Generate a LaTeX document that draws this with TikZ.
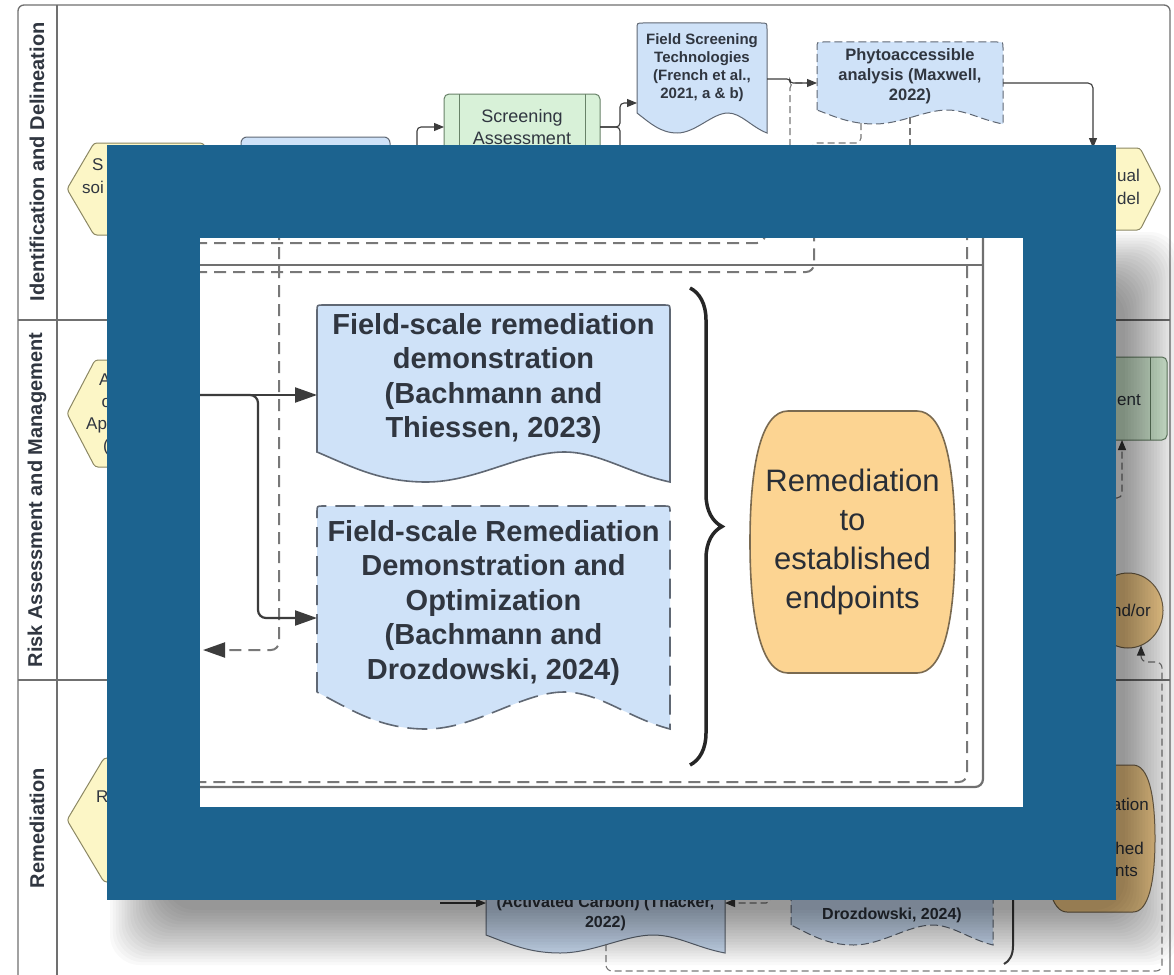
\documentclass[tikz,border=0pt]{standalone}
\usepackage{fontspec}
\setmainfont{Liberation Sans}
\usetikzlibrary{arrows.meta,calc,shapes.geometric,decorations.pathreplacing}

\definecolor{zoomblue}{RGB}{28,99,143}
\definecolor{docfill}{RGB}{207,226,248}
\definecolor{docline}{RGB}{96,104,116}
\definecolor{hexfill}{RGB}{252,246,198}
\definecolor{hexline}{RGB}{140,136,100}
\definecolor{grnfill}{RGB}{216,241,216}
\definecolor{grnline}{RGB}{104,130,104}
\definecolor{orgfill}{RGB}{252,212,146}
\definecolor{orgline}{RGB}{122,106,80}
\definecolor{inktext}{RGB}{48,54,64}
\definecolor{frameln}{RGB}{112,112,112}
\definecolor{connln}{RGB}{60,60,60}
\definecolor{dashln}{RGB}{120,120,120}

% document shape: rounded top, wavy bottom (#3 = wave depth)
\newcommand{\docoutline}[3]{%
  \path[#1] let \p1=(#2.north west), \p2=(#2.south east), \n1={\x2-\x1} in
    (\x1,\y2) -- (\x1,\y1-6pt) .. controls (\x1,\y1) .. (\x1+6pt,\y1)
    -- (\x2-6pt,\y1) .. controls (\x2,\y1) .. (\x2,\y1-6pt)
    -- (\x2,\y2-#3pt)
    .. controls (\x2-0.12*\n1,\y2-0.7*#3pt) and (\x2-0.2*\n1,\y2) .. (\x2-0.3*\n1,\y2)
    .. controls (\x2-0.42*\n1,\y2) and (\x1+0.45*\n1,\y2-#3pt) .. (\x1+0.31*\n1,\y2-#3pt)
    .. controls (\x1+0.18*\n1,\y2-#3pt) and (\x1+0.1*\n1,\y2-0.5*#3pt) .. (\x1,\y2) -- cycle;}

% barrel shape: flat top and bottom, bulging sides (#3 = bulge)
\newcommand{\barreloutline}[3]{%
  \path[#1] let \p1=(#2.north west), \p2=(#2.south east), \p3=(#2.east), \n1={\y1-\y2} in
    (\x1+#3pt,\y1) -- (\x2-#3pt,\y1)
    .. controls (\x2-0.3*#3pt,\y1) and (\x2,\y1-0.2*\n1) .. (\x2,\y3)
    .. controls (\x2,\y2+0.2*\n1) and (\x2-0.3*#3pt,\y2) .. (\x2-#3pt,\y2)
    -- (\x1+#3pt,\y2)
    .. controls (\x1+0.3*#3pt,\y2) and (\x1,\y2+0.2*\n1) .. (\x1,\y3)
    .. controls (\x1,\y1-0.2*\n1) and (\x1+0.3*#3pt,\y1) .. (\x1+#3pt,\y1) -- cycle;}

% hexagon with pointed left and right ends (#3 = point depth)
\newcommand{\hexoutline}[3]{%
  \path[#1] let \p1=(#2.north west), \p2=(#2.south east), \p3=(#2.east) in
    (\x1,\y3) -- (\x1+#3pt,\y1) -- (\x2-#3pt,\y1) -- (\x2,\y3)
    -- (\x2-#3pt,\y2) -- (\x1+#3pt,\y2) -- cycle;}

\begin{document}
\begin{tikzpicture}[x=1pt,y=-1pt,
  box/.style={inner sep=0pt, outer sep=0pt, anchor=north west},
  poolline/.style={draw=frameln, line width=1.3pt},
  lane/.style={rotate=90, text=inktext, font=\fontsize{20}{24}\selectfont\bfseries},
  frag/.style={inner sep=0pt, text=inktext, font=\fontsize{17}{20}\selectfont},
  bgdoctext/.style={text=inktext, align=center, inner sep=0pt},
  hexshape/.style={draw=hexline, fill=hexfill, line width=1pt, rounded corners=3pt},
  grnshape/.style={draw=grnline, fill=grnfill, line width=1pt, rounded corners=5pt},
  orgshape/.style={draw=orgline, fill=orgfill, line width=1pt},
  bgdoc/.style={draw=docline, fill=docfill, line width=1pt},
  bgdocdash/.style={bgdoc, dash pattern=on 8pt off 4pt},
  bgline/.style={draw=connln, line width=1.1pt},
  bgconn/.style={bgline, -{Triangle[length=10pt,width=8pt]}},
  bgdash/.style={draw=dashln, line width=1.1pt, dash pattern=on 7pt off 4pt},
  bgdasharrow/.style={bgdash, -{Triangle[length=10pt,width=8pt,color=connln]}},
  indash/.style={draw=dashln, line width=2pt, dash pattern=on 12pt off 7pt},
  indasharrow/.style={indash, -{Triangle[length=22pt,width=15pt,color=connln]}},
  inframe/.style={draw=frameln, line width=2.2pt},
  inconn/.style={draw=connln, line width=2.2pt, -{Triangle[length=22pt,width=15pt]}},
  indoc/.style={draw=docline, fill=docfill, line width=1.6pt},
  indocdash/.style={indoc, dash pattern=on 20pt off 9pt},
  indoctext/.style={text=inktext, align=center, inner sep=0pt,
    font=\fontsize{29}{34.5}\selectfont\bfseries},
  inorg/.style={draw=orgline, fill=orgfill, line width=1.6pt},
  inorgtext/.style={text=inktext!85!black, align=center, inner sep=0pt,
    font=\fontsize{31}{39}\selectfont},
  inbrace/.style={draw=black!85, line width=3.5pt}
]
\useasboundingbox (0,0) rectangle (1174,974);
\clip (0,0) rectangle (1174,974);
\fill[white] (0,0) rectangle (1174,974);

% ---------- swimlane pool ----------
\draw[poolline, rounded corners=6pt] (18,5) rectangle (1170,995);
\draw[poolline] (57,5) -- (57,995);
\draw[poolline] (18,320) -- (1170,320);
\draw[poolline] (18,680) -- (1170,680);
\node[lane] (laneID) at (37,162) {Identification and Delineation};
\node[lane] (laneRA) at (37,500) {Risk Assessment and Management};
\node[lane] (laneRM) at (37,828) {Remediation};

% ---------- lane shapes ----------
\node[box, minimum width=163pt, minimum height=92pt] (hexSoil) at (67,143) {};
\hexoutline{hexshape}{hexSoil}{27}
\node[frag, anchor=west] (fSoilA) at (92,165) {S};
\node[frag, anchor=west] (fSoilB) at (82,187) {soi};

\node[box, minimum width=163pt, minimum height=107pt] (hexApp) at (67,360) {};
\hexoutline{hexshape}{hexApp}{28}
\node[frag, anchor=west] (fAppA) at (99,380) {A};
\node[frag, anchor=west] (fAppB) at (101.5,403) {o};
\node[frag, anchor=west] (fAppC) at (86,425) {Ap};
\node[frag, anchor=west] (fAppD) at (103,447) {(};

\node[box, minimum width=173pt, minimum height=124pt] (hexRem) at (67,758) {};
\hexoutline{hexshape}{hexRem}{37}
\node[frag, anchor=west] (fRemA) at (96,797) {R};

\node[box, minimum width=136pt, minimum height=82pt] (hexCSM) at (1025,148) {};
\hexoutline{hexshape}{hexCSM}{21}
\node[frag, anchor=west] (fCsmA) at (1117,175) {ual};
\node[frag, anchor=west] (fCsmB) at (1117,198) {del};

\node[box, minimum width=149pt, minimum height=80pt, bgdoc, rounded corners=6pt] (procBox) at (241,137) {};

\node[box, minimum width=156pt, minimum height=66pt, grnshape] (screen) at (444,94) {};
\draw[grnline, line width=1pt] ($(screen.north west)+(15,0)$) -- ($(screen.south west)+(15,0)$);
\draw[grnline, line width=1pt] ($(screen.north east)+(-15,0)$) -- ($(screen.south east)+(-15,0)$);
\node[bgdoctext, font=\fontsize{18}{22}\selectfont] (screenT) at (screen.center) {Screening\\Assessment};

\node[box, minimum width=130pt, minimum height=90pt] (fieldScr) at (637,23) {};
\docoutline{bgdoc}{fieldScr}{20}
\node[bgdoctext, font=\fontsize{15}{18}\selectfont\bfseries] (fieldScrT) at (fieldScr.center)
  {Field Screening\\Technologies\\(French et al.,\\2021, a \& b)};

\node[box, minimum width=186pt, minimum height=68pt] (phyto) at (817,42) {};
\docoutline{bgdocdash}{phyto}{14}
\node[bgdoctext, font=\fontsize{16.5}{20}\selectfont\bfseries] (phytoT) at (phyto.center)
  {Phytoaccessible\\analysis (Maxwell,\\2022)};

\node[box, minimum width=167pt, minimum height=83pt, grnshape] (greenEnt) at (1000,357) {};
\draw[grnline, line width=1pt] ($(greenEnt.north east)+(-17,0)$) -- ($(greenEnt.south east)+(-17,0)$);
\node[frag, anchor=west] (fEnt) at (1117,400) {ent};

\node[ellipse, draw=orgline, fill=orgfill, line width=1pt, inner sep=0pt,
  minimum width=70pt, minimum height=75pt] (ellAndOr) at (1128,610.5) {};
\node[frag, anchor=east] (fAndOr) at (1151,610) {nd/or};

\node[box, minimum width=110pt, minimum height=147pt] (bgOrange) at (1045,765) {};
\barreloutline{orgshape}{bgOrange}{22}
\node[frag, anchor=east] (fOrgA) at (1149,804) {ation};
\node[frag, anchor=east] (fOrgB) at (1144,848) {hed};
\node[frag, anchor=east] (fOrgC) at (1138,871) {nts};

\node[box, minimum width=239pt, minimum height=44pt] (thacker) at (486,891) {};
\docoutline{bgdoc}{thacker}{18}
\node[bgdoctext, font=\fontsize{16}{20}\selectfont\bfseries] (thackerT) at (thacker.center)
  {(Activated Carbon) (Thacker,\\2022)};

\node[box, minimum width=202pt, minimum height=95pt] (drozBg) at (791,830) {};
\docoutline{bgdocdash}{drozBg}{20}
\node[bgdoctext, font=\fontsize{16}{20}\selectfont\bfseries] (drozBgT) at (892,915)
  {Drozdowski, 2024)};

\draw[bgline, line width=2pt, decorate, decoration={brace, amplitude=18pt}] (1004,690) -- (1004,964);

% ---------- connectors ----------
\coordinate (srcScr) at (417,185);
\draw[bgconn, rounded corners=4pt] (srcScr) |- (screen.west);

\coordinate (fsIn) at ($(fieldScr.south west)+(0,-10)$);
\draw[bgline, rounded corners=4pt] (screen.east) -- ++(20,0) -- ++(0,45);
\draw[bgconn, rounded corners=4pt] (screen.east) -- ++(20,0) |- (fsIn);

\coordinate (fsOut) at ($(fieldScr.east)+(0,11)$);
\coordinate (phIn) at ($(phyto.west)+(0,7)$);
\coordinate (dashUp) at (790,190);
\draw[bgdash, rounded corners=5pt] (dashUp) |- (phIn);
\draw[bgconn, rounded corners=3pt] (fsOut) -- ++(23,0) |- (phIn);

\coordinate (phOut) at ($(phyto.east)+(0,7)$);
\draw[bgconn, rounded corners=5pt] (phOut) -| (hexCSM.north);

\coordinate (phLowA) at ($(phyto.south west)+(44,13)$);
\coordinate (sinkA) at (812,190);
\draw[bgdash, rounded corners=5pt] (phLowA) |- ($(sinkA)+(0,-47)$) -- (sinkA);
\coordinate (phLowB) at ($(phyto.south west)+(93,7)$);
\coordinate (sinkB) at (910,190);
\draw[bgdash] (phLowB) -- (sinkB);

\coordinate (srcEnt) at (1060,498);
\coordinate (entIn) at ($(greenEnt.south east)+(-45,0)$);
\draw[bgdasharrow, rounded corners=5pt] (srcEnt) -| (entIn);

\coordinate (thOut) at ($(thacker.south west)+(120,9)$);
\coordinate (andIn) at ($(ellAndOr.south)+(13,-3)$);
\draw[bgdasharrow, rounded corners=6pt] (thOut) -- (606,971) -- (1162,971) -- (1162,662) -- (1141,662) -- (andIn);

\coordinate (srcTh) at (440,903);
\coordinate (thIn) at ($(thacker.west)+(0,-10)$);
\draw[bgconn] (srcTh) -- (thIn);

\coordinate (srcDz) at (771,860);
\coordinate (thRIn) at ($(thacker.east)+(0,-10)$);
\draw[bgdasharrow, rounded corners=5pt] (srcDz) |- (thRIn);

% ---------- soft drop shadow of the zoom panel ----------
\foreach \k in {0,...,19} {
  \fill[black, opacity=0.024, rounded corners=30pt]
    (110+2.9*\k,232+2.9*\k) rectangle (1180-2.9*\k,965-2.9*\k);
}

% ---------- zoom panel ----------
\node[box, fill=zoomblue, minimum width=1009pt, minimum height=755pt] (zoomFrame) at (107,145) {};
\node[box, fill=white, minimum width=823pt, minimum height=569pt] (inset) at (200,238) {};

\begin{scope}
\clip (inset.north west) rectangle (inset.south east);

\coordinate (iA) at (195,243); \coordinate (iAt) at (765,228);
\draw[indash, rounded corners=8pt] (iA) -| (iAt);
\coordinate (iB) at (195,272); \coordinate (iBt) at (814,228);
\draw[indash, rounded corners=8pt] (iB) -| (iBt);

\coordinate (iLaneL) at (195,265); \coordinate (iLaneR) at (983,265);
\draw[inframe] (iLaneL) -- (iLaneR);
\coordinate (iPoolT) at (983,228); \coordinate (iPoolB) at (195,787);
\draw[inframe, rounded corners=8pt] (iPoolT) |- (iPoolB);
\coordinate (iGrpT) at (967,228); \coordinate (iGrpB) at (195,782);
\draw[indash, rounded corners=8pt] (iGrpT) |- (iGrpB);

\coordinate (iC) at (279,228); \coordinate (iCt) at (203,650);
\draw[indasharrow, rounded corners=8pt] (iC) |- (iCt);

\node[box, minimum width=353pt, minimum height=147pt] (iDoc1) at (317,305) {};
\docoutline{indoc}{iDoc1}{30}
\node[indoctext] (iDoc1T) at (iDoc1.center)
  {Field-scale remediation\\demonstration\\(Bachmann and\\Thiessen, 2023)};

\node[box, minimum width=353pt, minimum height=186pt] (iDoc2) at (317,506) {};
\docoutline{indocdash}{iDoc2}{37}
\node[indoctext] (iDoc2T) at ($(iDoc2.center)+(0,3.5)$)
  {Field-scale Remediation\\Demonstration and\\Optimization\\(Bachmann and\\Drozdowski, 2024)};

\coordinate (iD) at (195,395);
\coordinate (iD1in) at ($(iDoc1.west)+(0,16.5)$);
\coordinate (iD2in) at ($(iDoc2.west)+(0,19)$);
\draw[inconn] (iD) -- (iD1in);
\draw[inconn, rounded corners=8pt] (iD) -- ++(63,0) |- (iD2in);

\draw[inbrace, decorate, decoration={brace, amplitude=32pt}] (690,288) -- (690,765);

\node[box, minimum width=205pt, minimum height=262pt] (iOrange) at (750,411) {};
\barreloutline{inorg}{iOrange}{38}
\node[inorgtext] (iOrangeT) at (iOrange.center) {Remediation\\to\\established\\endpoints};
\end{scope}
\end{tikzpicture}
\end{document}
